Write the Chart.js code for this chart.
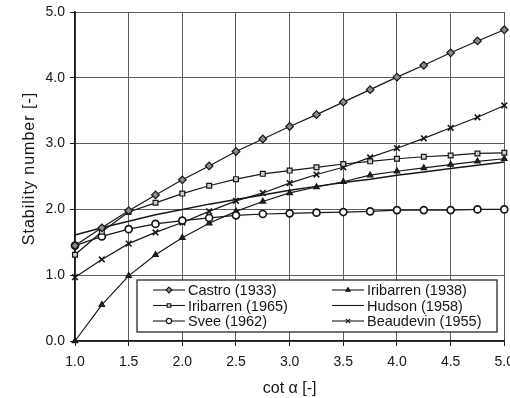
<!DOCTYPE html>
<html>
<head>
<meta charset="utf-8">
<script src="https://cdn.jsdelivr.net/npm/chart.js@4/dist/chart.umd.min.js"></script>
<style>
  html, body { margin: 0; padding: 0; background: #fff; overflow: hidden; }
  canvas { display: block; }
</style>
</head>
<body>
<canvas id="chart" width="510" height="398"></canvas>
<script>
// Slope (cot alpha) values where each formula was evaluated
const cotAlpha = [1.0, 1.25, 1.5, 1.75, 2.0, 2.25, 2.5, 2.75, 3.0, 3.25, 3.5, 3.75, 4.0, 4.25, 4.5, 4.75, 5.0];

// Stability number per formula
const castro1933     = [1.45, 1.72, 1.98, 2.22, 2.45, 2.66, 2.88, 3.07, 3.26, 3.44, 3.63, 3.82, 4.01, 4.19, 4.38, 4.56, 4.73];
const iribarren1965  = [1.31, 1.66, 1.96, 2.10, 2.24, 2.36, 2.46, 2.54, 2.59, 2.64, 2.69, 2.73, 2.77, 2.80, 2.82, 2.85, 2.86];
const svee1962       = [1.45, 1.59, 1.70, 1.78, 1.83, 1.87, 1.91, 1.93, 1.94, 1.95, 1.96, 1.97, 1.99, 1.99, 1.99, 2.00, 2.00];
const iribarren1938  = [0.00, 0.55, 0.99, 1.31, 1.57, 1.79, 1.97, 2.12, 2.25, 2.34, 2.42, 2.52, 2.58, 2.63, 2.68, 2.73, 2.77];
const hudson1958     = [1.61, 1.72, 1.82, 1.92, 2.00, 2.08, 2.15, 2.22, 2.29, 2.35, 2.41, 2.46, 2.52, 2.57, 2.62, 2.67, 2.72];
const beaudevin1955  = [0.97, 1.24, 1.48, 1.65, 1.80, 1.97, 2.13, 2.25, 2.40, 2.53, 2.64, 2.79, 2.93, 3.08, 3.24, 3.40, 3.58];

const seriesLabels = ['Castro (1933)', 'Iribarren (1965)', 'Svee (1962)', 'Iribarren (1938)', 'Hudson (1958)', 'Beaudevin (1955)'];
const xTitle = 'cot \u03b1 [-]';
const yTitle = 'Stability number [-]';

const FONT = '"Liberation Sans", Arial, Helvetica, sans-serif';
const INK = '#161616';
const GRID = '#5e5e5e';

function pts(values) {
  return cotAlpha.map((x, i) => ({ x: x, y: values[i] }));
}

function series(label, values, style) {
  return Object.assign({
    label: label,
    data: pts(values),
    borderColor: INK,
    borderWidth: 1.2,
    pointBorderColor: INK,
    pointBorderWidth: 1.2,
    tension: 0,
    clip: false
  }, style);
}

const datasets = [
  series(seriesLabels[0], castro1933,    { pointStyle: 'rectRot',  pointRadius: 3.8, pointBackgroundColor: '#8c8c8c' }),
  series(seriesLabels[1], iribarren1965, { pointStyle: 'rect',     pointRadius: 3.4, pointBackgroundColor: '#d0d0d0' }),
  series(seriesLabels[2], svee1962,      { pointStyle: 'circle',   pointRadius: 3.5, pointBackgroundColor: '#ffffff', pointBorderWidth: 1.7 }),
  series(seriesLabels[3], iribarren1938, { pointStyle: 'triangle', pointRadius: 3.2, pointBackgroundColor: '#222222' }),
  series(seriesLabels[4], hudson1958,    { pointRadius: 0, borderWidth: 1.5 }),
  series(seriesLabels[5], beaudevin1955, { pointStyle: 'crossRot', pointRadius: 4.0, pointBorderWidth: 1.6 })
];

// Boxed legend drawn inside the lower-right part of the plot area
const boxedLegend = {
  id: 'boxedLegend',
  afterDatasetsDraw(chart) {
    const { ctx, chartArea } = chart;
    const bx = chartArea.left + 62, by = chartArea.bottom - 61;
    const bw = 360, bh = 52;
    ctx.save();
    ctx.fillStyle = '#fff';
    ctx.fillRect(bx, by, bw, bh);
    ctx.strokeStyle = INK;
    ctx.lineWidth = 1.2;
    ctx.strokeRect(bx, by, bw, bh);

    ctx.font = '14.5px ' + FONT;
    ctx.textBaseline = 'middle';
    ctx.textAlign = 'left';
    chart.data.datasets.forEach((ds, i) => {
      const col = Math.floor(i / 3), row = i % 3;
      const lx = bx + 16 + col * 179;
      const ly = by + 10 + row * 15.5;
      ctx.strokeStyle = INK;
      ctx.lineWidth = 1.1;
      ctx.beginPath();
      ctx.moveTo(lx, ly);
      ctx.lineTo(lx + 32, ly);
      ctx.stroke();
      if (ds.pointRadius > 0) {
        ctx.fillStyle = ds.pointBackgroundColor;
        ctx.strokeStyle = INK;
        ctx.lineWidth = 1.1;
        Chart.helpers.drawPoint(ctx, {
          pointStyle: ds.pointStyle,
          radius: ds.pointRadius * 0.75,
          rotation: 0,
          borderWidth: 1.1
        }, lx + 16, ly);
      }
      ctx.fillStyle = INK;
      ctx.fillText(ds.label, lx + 35, ly + 1);
    });
    ctx.restore();
  }
};

// Rotated, slightly tracked title for the value axis
const valueAxisTitle = {
  id: 'valueAxisTitle',
  afterDraw(chart) {
    const { ctx, chartArea } = chart;
    ctx.save();
    ctx.translate(30, (chartArea.top + chartArea.bottom) / 2 - 8);
    ctx.rotate(-Math.PI / 2);
    ctx.font = '16px ' + FONT;
    if ('letterSpacing' in ctx) ctx.letterSpacing = '1px';
    ctx.fillStyle = INK;
    ctx.textAlign = 'center';
    ctx.textBaseline = 'middle';
    ctx.fillText(yTitle, 0, 0);
    ctx.restore();
  }
};

new Chart(document.getElementById('chart'), {
  type: 'line',
  data: { datasets: datasets },
  plugins: [boxedLegend, valueAxisTitle],
  options: {
    responsive: false,
    animation: false,
    layout: { padding: { left: 0, right: 5, top: 12, bottom: 0 } },
    plugins: {
      legend: { display: false },
      tooltip: { enabled: false }
    },
    scales: {
      x: {
        type: 'linear',
        min: 1.0,
        max: 5.0,
        ticks: {
          stepSize: 0.5,
          color: INK,
          padding: 8,
          font: { family: FONT, size: 14 },
          callback: v => v.toFixed(1)
        },
        grid: { color: GRID, lineWidth: 1, tickColor: INK, tickLength: 5 },
        border: { color: INK, width: 1.6 },
        title: {
          display: true,
          text: xTitle,
          color: INK,
          font: { family: FONT, size: 16 },
          padding: { top: 0, bottom: 0 }
        },
        afterFit(scale) {
          scale.height = 57;
          scale.paddingLeft = 0;
          scale.paddingRight = 0;
        }
      },
      y: {
        min: 0,
        max: 5,
        ticks: {
          stepSize: 1,
          color: INK,
          padding: 5,
          font: { family: FONT, size: 14 },
          callback: v => v.toFixed(1)
        },
        grid: { color: GRID, lineWidth: 1, tickColor: INK, tickLength: 5 },
        border: { color: INK, width: 1.6 },
        afterFit(scale) {
          scale.width = 75;
          scale.paddingTop = 0;
          scale.paddingBottom = 0;
        }
      }
    }
  }
});
</script>
</body>
</html>
